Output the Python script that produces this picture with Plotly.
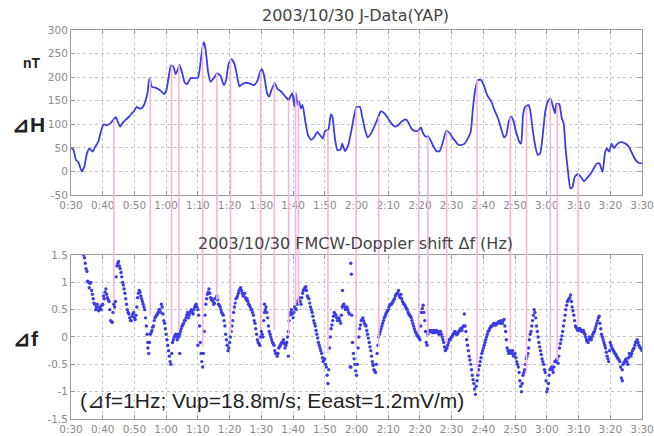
import plotly.graph_objects as go

# ---------------- data ----------------
# minutes after 0:30
TICK_VALS = [0, 10, 20, 30, 40, 50, 60, 70, 80, 90, 100, 110, 120, 130, 140, 150, 160, 170, 180]
TICK_TEXT = ["0:30", "0:40", "0:50", "1:00", "1:10", "1:20", "1:30", "1:40", "1:50", "2:00",
             "2:10", "2:20", "2:30", "2:40", "2:50", "3:00", "3:10", "3:20", "3:30"]

H_T = [0, 0.7, 1.6, 2.3, 3.4, 4.2, 4.9, 5.8, 6.8, 7.6, 8.6, 9.4, 10.3, 11.2, 12.4, 13.4, 14.1, 14.9, 15.5,
       16.4, 17.3, 18.3, 19.2, 19.9, 20.7, 21.5, 22.3, 23.2, 24.1, 24.6, 24.9, 25.4, 26.3, 27.2, 28.3, 29.3,
       30.1, 30.9, 31.5, 32.3, 33.0, 33.6, 34.2, 35.1, 35.8, 36.6, 37.7, 38.7, 40.0, 40.6, 41.4, 41.9, 42.4,
       43.2, 44.0, 45.0, 46.1, 47.1, 48.2, 48.9, 49.7, 50.6, 51.5, 52.4, 53.1, 53.9, 55.0, 56.2, 57.6, 58.6,
       59.7, 60.2, 60.9, 61.8, 62.5, 63.2, 64.2, 65.1, 66.3, 67.5, 68.6, 69.4, 69.8, 70.4, 70.9, 71.4, 71.9,
       72.5, 73.0, 73.8, 74.7, 75.7, 76.8, 77.6, 78.5, 79.4, 80.1, 81.1, 81.9, 82.4, 83.2, 84.0, 85.0, 85.5,
       86.4, 87.4, 88.5, 89.3, 90.0, 91.1, 91.8, 92.7, 93.5, 94.6, 95.8, 96.9, 97.7, 98.8, 99.8, 101.0,
       102.1, 103.1, 104.4, 105.7, 106.5, 107.3, 108.4, 109.4, 110.3, 111.0, 111.7, 112.6, 113.3, 114.1,
       115.2, 116.2, 117.3, 118.3, 119.4, 120.4, 120.9, 122.0, 123.0, 124.1, 125.1, 126.0, 126.7, 127.4,
       128.3, 129.3, 130.1, 131.2, 132.5, 133.5, 134.6, 135.6, 136.5, 137.2, 138.0, 138.7, 139.4, 140.3,
       141.3, 141.9, 142.5, 143.2, 144.2, 144.8, 145.5, 146.3, 147.1, 147.9, 148.7, 149.5, 150.3, 151.1,
       151.8, 152.6, 153.0, 153.9, 154.7, 155.3, 156.0, 156.8, 157.4, 158.1, 158.8, 159.7, 160.7, 161.7,
       162.8, 163.9, 164.9, 165.8, 166.6, 167.2, 167.6, 168.3, 168.9, 169.6, 170.4, 171.2, 172.0, 173.3,
       174.8, 175.9, 176.9, 178.0, 179.0, 180.0]
H_V = [50, 47, 24, 20, 0, 10, 35, 49, 42, 52, 63, 84, 100, 98, 102, 110, 115, 103, 95,
       104, 110, 116, 123, 128, 137, 134, 134, 144, 166, 194, 198, 180, 178, 176, 171, 164,
       173, 205, 225, 222, 206, 215, 226, 208, 189, 185, 198, 198, 199, 219, 261, 274, 261,
       212, 190, 198, 208, 203, 183, 194, 229, 238, 229, 201, 180, 185, 188, 187, 183, 190,
       212, 217, 203, 166, 159, 173, 188, 175, 169, 159, 152, 162, 166, 137, 166, 141, 148,
       134, 141, 109, 77, 67, 74, 84, 77, 70, 86, 88, 121, 116, 70, 45, 47, 59,
       43, 56, 91, 120, 137, 137, 116, 88, 72, 81, 98, 116, 128, 123, 114, 102,
       95, 98, 107, 110, 102, 91, 86, 86, 93, 81, 74, 74, 67, 55,
       43, 43, 64, 86, 81, 70, 67, 57, 56, 59, 70, 84, 134, 173,
       194, 194, 183, 162, 148, 130, 113, 91, 72, 77, 106, 116, 109, 84,
       63, 59, 120, 137, 141, 128, 91, 56, 35, 38, 77, 127, 148, 155,
       141, 123, 143, 143, 113, 102, 42, -8, -36, -33, -11, -6, -11, -21,
       -13, -4, 8, 17, 17, 5, -1, 38, 49, 42, 59, 49, 57, 62,
       59, 52, 38, 24, 18, 17]

# Doppler shift samples every 0.5 min starting at 0:34
DF_START = 4.0
DF_STEP = 0.5
DF_V = [1.5, 1.35, 1.2, 1.0, 0.98, 0.85, 0.7, 0.6, 0.55, 0.5, 0.55, 0.5, 0.6, 0.7, 0.88, 0.72, 0.65, 0.3, 0.27,
        0.6, 0.65, 1.3, 1.38, 1.25, 1.1, 0.95, 0.8, 0.6, 0.45, 0.35, 0.3, 0.42, 0.35, 0.4, 0.72, 0.85, 0.75,
        0.65, 0.55, 0.35, 0.05, -0.3, 0.05, 0.12, 0.2, 0.35, 0.4, 0.45, 0.5, 0.6, 0.42, 0.25, 0.05, -0.15,
        -0.35, -0.5, -0.1, 0.0, 0.05, -0.05, 0.0, 0.1, 0.2, 0.25, 0.3, 0.4, 0.35, 0.45, 0.5, 0.42, 0.55,
        0.6, 0.5, 0.2, -0.3, -0.55, 0.1, 0.6, 0.78, 0.88, 0.72, 0.7, 0.6, 0.7, 0.75, 0.6, 0.55, 0.45, 0.4,
        0.2, -0.05, -0.25, -0.1, 0.1, 0.3, 0.55, 0.7, 0.75, 0.85, 0.9, 0.8, 0.78, 0.72, 0.7, 0.6, 0.55,
        0.5, 0.4, 0.25, 0.05, -0.1, -0.15, 0.1, 0.0, 0.45, 0.55, 0.35, 0.1, 0.0, -0.1, -0.15, -0.3, -0.35,
        -0.2, -0.15, -0.1, -0.05, -0.2, -0.1, 0.1, 0.4, 0.5, 0.35, 0.55, 0.5, 0.65, 0.72, 0.6, 0.8, 0.88,
        0.92, 0.75, 0.7, 0.55, 0.45, 0.3, 0.2, 0.05, -0.1, -0.2, -0.3, -0.45, -0.4, -0.55, -0.85, -0.2,
        0.15, 0.3, 0.45, 0.4, 0.3, 0.35, 0.25, 0.55, 0.6, 0.5, 0.55, 0.45, -0.55, 0.4, -0.3, -0.5, -0.7,
        -0.2, 0.15, 0.3, 0.35, 0.25, 0.2, 0.05, -0.1, -0.25, -0.45, -0.6, -0.65, -0.3, 0.0, 0.1, 0.2, 0.3,
        0.38, 0.45, 0.5, 0.58, 0.6, 0.65, 0.7, 0.78, 0.8, 0.75, 0.78, 0.65, 0.6, 0.55, 0.5, 0.42, 0.38,
        0.3, 0.2, 0.1, 0.05, 0.0, -0.05, 0.45, 0.58, 0.3, -0.1, 0.05, 0.12, 0.1, 0.08, 0.12, 0.1, 0.1,
        0.05, 0.1, 0.0, -0.1, -0.25, -0.2, -0.1, -0.05, 0.0, 0.05, 0.1, 0.05, 0.08, 0.12, 0.15, 0.18,
        0.42, 0.1, -0.15, -0.35, -0.5, -0.7, -0.85, -1.05, -0.8, -0.6, -0.45, -0.3, -0.2, -0.1, 0.0, 0.1,
        0.15, 0.2, 0.22, 0.25, 0.22, 0.25, 0.28, 0.3, 0.25, 0.32, 0.1, -0.2, -0.3, -0.25, -0.3, -0.35,
        -0.3, -0.45, -0.55, -0.8, -1.0, -0.7, -0.6, -0.4, -0.3, -0.05, 0.1, 0.3, 0.5, 0.35, 0.1, -0.1,
        -0.25, -0.4, -0.5, -0.65, -1.0, -0.85, -0.6, -0.55, -0.65, -0.45, -0.42, -0.48, -0.2, -0.05, 0.1,
        0.3, 0.5, 0.65, 0.7, 0.77, 0.55, 0.4, 0.2, 0.15, 0.12, 0.15, 0.1, 0.12, 0.05, -0.05, -0.1, 0.0,
        -0.05, 0.05, 0.1, 0.2, 0.3, 0.38, 0.15, 0.0, -0.1, -0.2, -0.35, -0.45, -0.1, -0.2, -0.25, -0.3,
        -0.35, -0.4, -0.45, -0.75, -0.5, -0.45, -0.4, -0.5, -0.3, -0.35, -0.25, -0.2, -0.1, -0.05, -0.15,
        -0.2, -0.25]
# intermediate samples, every 0.5 min starting at 0:34.25
DF2_START = 4.25
DF_V2 = [1.45, 1.25, 1.02, 0.9, 1.0, 0.78, 0.62, 0.5, 0.6, 0.48, 0.52, 0.58, 0.75, 0.82, 0.78, 0.68,
         0.5, 0.28, 0.45, 0.55, 1.1, 1.35, 1.3, 1.18, 1.0, 0.88, 0.7, 0.5, 0.42, 0.3, 0.38, 0.45, 0.32,
         0.55, 0.8, 0.82, 0.7, 0.6, 0.5, 0.2, -0.2, -0.1, 0.08, 0.18, 0.3, 0.38, 0.42, 0.5, 0.45, 0.55,
         0.3, 0.15, -0.05, -0.25, -0.45, -0.3, -0.05, 0.02, 0.0, 0.05, 0.05, 0.15, 0.22, 0.3, 0.35, 0.45,
         0.4, 0.48, 0.45, 0.5, 0.58, 0.55, 0.4, -0.1, -0.45, -0.3, 0.4, 0.7, 0.82, 0.8, 0.68, 0.65, 0.62,
         0.72, 0.68, 0.58, 0.5, 0.42, 0.3, 0.05, -0.15, -0.2, 0.0, 0.2, 0.45, 0.62, 0.72, 0.8, 0.88, 0.85,
         0.75, 0.8, 0.68, 0.65, 0.58, 0.5, 0.45, 0.3, 0.15, -0.05, -0.12, 0.0, 0.05, 0.3, 0.5, 0.45, 0.2,
         0.05, -0.05, -0.12, -0.25, -0.3, -0.3, -0.18, -0.12, -0.08, -0.12, -0.15, 0.0, 0.3, 0.45, 0.42,
         0.45, 0.52, 0.6, 0.68, 0.65, 0.72, 0.85, 0.9, 0.85, 0.72, 0.62, 0.5, 0.38, 0.25, 0.12, -0.02,
         -0.15, -0.25, -0.38, -0.42, -0.5, -0.7, -0.6, 0.0, 0.22, 0.38, 0.42, 0.35, 0.32, 0.3, 0.4, 0.58,
         0.55, 0.52, 0.5, 0.42, -0.55, -0.1, -0.4, -0.62, -0.5, 0.0, 0.22, 0.32, 0.3, 0.22, 0.12, -0.02,
         -0.18, -0.35, -0.52, -0.62, -0.5, -0.15, 0.05, 0.15, 0.25, 0.35, 0.42, 0.48, 0.55, 0.6, 0.62,
         0.68, 0.75, 0.8, 0.85, 0.72, 0.7, 0.62, 0.58, 0.52, 0.45, 0.4, 0.35, 0.25, 0.15, 0.08, 0.02,
         -0.02, 0.2, 0.52, 0.45, 0.1, -0.15, 0.1, 0.1, 0.12, 0.1, 0.08, 0.12, 0.08, 0.1, 0.05, -0.05,
         -0.18, -0.22, -0.15, -0.05, -0.02, 0.02, 0.08, 0.08, 0.05, 0.1, 0.15, 0.12, 0.2, 0.2, -0.05,
         -0.25, -0.42, -0.6, -0.78, -0.95, -0.9, -0.7, -0.52, -0.38, -0.25, -0.15, -0.05, 0.05, 0.12,
         0.18, 0.2, 0.25, 0.22, 0.25, 0.28, 0.25, 0.28, 0.3, 0.2, -0.05, -0.25, -0.28, -0.3, -0.25, -0.32,
         -0.38, -0.5, -0.65, -0.9, -0.85, -0.65, -0.5, -0.35, -0.2, 0.05, 0.2, 0.4, 0.45, 0.2, 0.0, -0.18,
         -0.32, -0.45, -0.6, -0.8, -0.95, -0.7, -0.58, -0.6, -0.55, -0.45, -0.4, -0.35, -0.12, 0.02, 0.2,
         0.4, 0.58, 0.68, 0.72, 0.65, 0.48, 0.3, 0.18, 0.12, 0.15, 0.12, 0.1, 0.08, 0.0, -0.08, -0.05,
         -0.02, 0.0, 0.08, 0.15, 0.25, 0.35, 0.25, 0.05, -0.05, -0.15, -0.28, -0.4, -0.25, -0.15, -0.22,
         -0.28, -0.32, -0.38, -0.42, -0.55, -0.6, -0.48, -0.42, -0.45, -0.38, -0.32, -0.3, -0.22, -0.15,
         -0.08, -0.1, -0.18, -0.22]
# scattered extra samples
DF_EXTRA_T = [88.2, 88.4, 85.6, 34.3, 40.0, 68.5, 24.2, 61.0, 95.2, 173.8]
DF_EXTRA_V = [1.35, 1.15, 0.85, -0.3, -0.15, -0.35, -0.1, 0.6, -0.5, -0.8]

# pink connector lines: time, dH value, df value
PINK_T = [13.5, 25.0, 31.7, 34.0, 41.5, 46.0, 50.3, 59.8, 64.1, 68.6, 70.8, 71.7, 81.0, 89.9, 97.0,
          109.6, 112.5, 118.4, 128.0, 138.5, 143.6, 151.1, 153.3, 159.9]
PINK_TOP = [110, 198, 225, 226, 268, 208, 238, 212, 188, 152, 166, 148, 88, 135, 116, 87, 74, 86,
            194, 116, 138, 155, 143, -6]
PINK_BOT = [0.68, 0.4, 0.04, 0.13, -0.18, 0.68, 0.07, 0.13, 0.13, 0.04, 0.58, 0.62, -0.3, -0.18,
            -0.18, 0.07, -0.02, -0.12, -0.67, -0.12, -0.67, -0.5, -0.42, 0.22]

# ---------------- figure ----------------
Y1_RANGE = [-50, 300]
Y2_RANGE = [-1.5, 1.5]
Y1_DOM = [0.5758, 1.0]
Y2_DOM = [0.0, 0.4216]

df_t = ([DF_START + i * DF_STEP for i in range(len(DF_V))]
        + [DF2_START + i * DF_STEP for i in range(len(DF_V2))] + DF_EXTRA_T)
df_v = DF_V + DF_V2 + DF_EXTRA_V

BLUE = "#3c3ce6"
PINK = "#f2b6dc"

fig = go.Figure()
fig.add_trace(go.Scatter(x=H_T, y=H_V, mode="lines", xaxis="x", yaxis="y",
                         line=dict(color=BLUE, width=1.8, shape="spline", smoothing=0.5),
                         showlegend=False, hoverinfo="skip"))
fig.add_trace(go.Scatter(x=df_t, y=df_v, mode="markers", xaxis="x2", yaxis="y2",
                         marker=dict(color=BLUE, size=3.4, line=dict(width=0)),
                         showlegend=False, hoverinfo="skip"))


def to_paper(v, rng, dom):
    return dom[0] + (v - rng[0]) / (rng[1] - rng[0]) * (dom[1] - dom[0])


shapes = []
for t, a, b in zip(PINK_T, PINK_TOP, PINK_BOT):
    shapes.append(dict(type="line", xref="x", yref="paper", x0=t, x1=t,
                       y0=to_paper(a, Y1_RANGE, Y1_DOM), y1=to_paper(b, Y2_RANGE, Y2_DOM),
                       line=dict(color=PINK, width=1.6), layer="above"))

axis_common = dict(range=[0, 180], tickvals=TICK_VALS, ticktext=TICK_TEXT,
                   showgrid=True, gridcolor="#c4c4c4", griddash="dot", gridwidth=1,
                   showline=True, linecolor="#9a9a9a", linewidth=1, mirror="ticks",
                   ticks="inside", ticklen=4, tickcolor="#9a9a9a",
                   tickfont=dict(family="DejaVu Sans", size=10.5, color="#8a8a8a"),
                   ticklabeloverflow="allow",
                   zeroline=False, fixedrange=True, automargin=False)
yaxis_common = dict(showgrid=True, gridcolor="#c4c4c4", griddash="dot", gridwidth=1,
                    showline=True, linecolor="#9a9a9a", linewidth=1, mirror="ticks",
                    ticks="inside", ticklen=4, tickcolor="#9a9a9a",
                    tickfont=dict(family="DejaVu Sans", size=10.5, color="#8a8a8a"),
                    zeroline=False, fixedrange=True, automargin=False)

fig.update_layout(
    width=654, height=436,
    margin=dict(l=71, r=12, t=30, b=17),
    paper_bgcolor="white", plot_bgcolor="white",
    xaxis=dict(axis_common, domain=[0, 1], anchor="y"),
    yaxis=dict(yaxis_common, domain=Y1_DOM, range=Y1_RANGE, anchor="x",
               tickvals=[-50, 0, 50, 100, 150, 200, 250, 300],
               ticktext=["-50", "0", "50", "100", "150", "200", "250", "300"]),
    xaxis2=dict(axis_common, domain=[0, 1], anchor="y2"),
    yaxis2=dict(yaxis_common, domain=Y2_DOM, range=Y2_RANGE, anchor="x2",
                tickvals=[-1.5, -1, -0.5, 0, 0.5, 1, 1.5],
                ticktext=["-1.5", "-1", "-0.5", "0", "0.5", "1", "1.5"]),
    shapes=shapes,
    annotations=[
        dict(text="2003/10/30 J-Data(YAP)", xref="paper", yref="paper", x=0.499, y=1.036,
             showarrow=False, xanchor="center", yanchor="middle",
             font=dict(family="DejaVu Sans", size=16, color="#444")),
        dict(text="2003/10/30 FMCW-Doppler shift Δf (Hz)", xref="paper", yref="paper",
             x=0.499, y=0.452, showarrow=False, xanchor="center", yanchor="middle",
             font=dict(family="DejaVu Sans", size=16, color="#444")),
        dict(text="<b>nT</b>", xref="paper", yref="paper", x=-0.068, y=0.915,
             showarrow=False, xanchor="center", yanchor="middle",
             font=dict(family="Liberation Sans", size=14, color="#222")),
        dict(text="<b>⊿H</b>", xref="paper", yref="paper", x=-0.075, y=0.756,
             showarrow=False, xanchor="center", yanchor="middle",
             font=dict(family="Liberation Sans", size=21, color="#222")),
        dict(text="<b>⊿f</b>", xref="paper", yref="paper", x=-0.078, y=0.208,
             showarrow=False, xanchor="center", yanchor="middle",
             font=dict(family="Liberation Sans", size=21, color="#222")),
        dict(text="(⊿f=1Hz; Vup=18.8m/s; Eeast=1.2mV/m)", xref="x2", yref="y2",
             x=2.2, y=-1.17, showarrow=False, xanchor="left", yanchor="middle",
             font=dict(family="Liberation Sans", size=21, color="#222")),
    ],
)

fig.write_html("out.html", config={"displayModeBar": False},
               post_script="document.body.style.margin='0';document.body.style.overflow='hidden';")
